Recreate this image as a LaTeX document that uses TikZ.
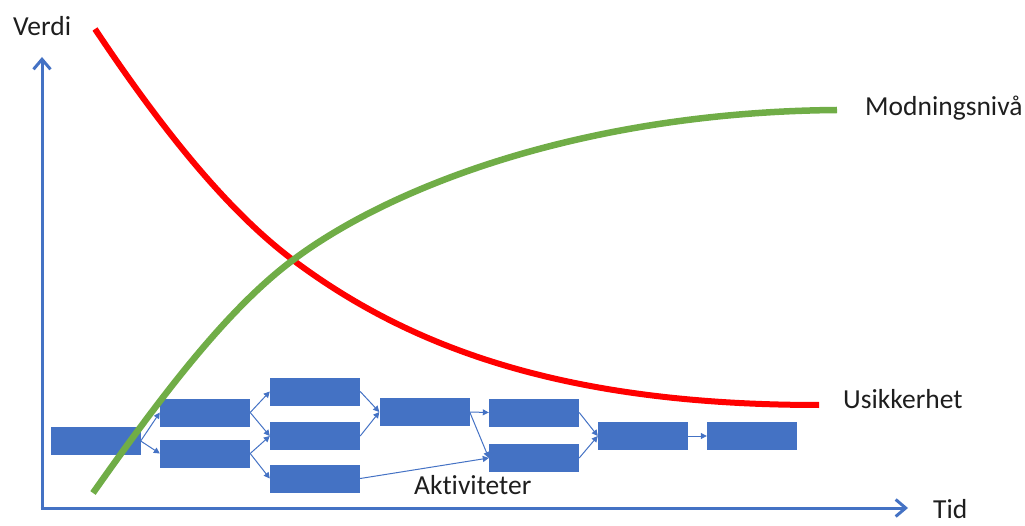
\documentclass[tikz,border=0pt]{standalone}
\usepackage{fontspec}
\setmainfont{Carlito}[Ligatures=NoCommon]
\usetikzlibrary{arrows.meta}
\definecolor{boxblue}{HTML}{4472C4}
\definecolor{axisblue}{HTML}{4472C4}
\definecolor{curvegreen}{HTML}{70AD47}
\definecolor{curvered}{HTML}{FF0000}
\definecolor{txt}{HTML}{1E1E1E}
\tikzset{
  actbox/.style={fill=boxblue, draw=none, inner sep=0pt, minimum width=90pt, minimum height=28pt},
  link/.style={draw=boxblue, line width=1pt, -{Triangle[length=6pt,width=6pt]}},
  axisline/.style={draw=axisblue, line width=3pt, -{Straight Barb[length=10pt,width=17pt,line width=3pt]}},
  lbl/.style={font=\fontsize{27.5}{32}\selectfont, text=txt, inner sep=0pt, anchor=base west},
}
\begin{document}
\begin{tikzpicture}[x=1pt,y=-1pt]
\useasboundingbox (0,0) rectangle (1025,526);
% axes
\coordinate (Ystart) at (42,509.5);
\coordinate (Xstart) at (40.5,508);
\coordinate (Ytip) at (42,57);
\coordinate (Xtip) at (908,508);
\draw[axisline] (Ystart) -- (Ytip);
\draw[axisline] (Xstart) -- (Xtip);
% labels
\node[lbl] (verdi) at (13,36) {Verdi};
\node[lbl] (tid) at (933,518) {Tid};
\node[lbl] (modning) at (865,116) {Modningsnivå};
\node[lbl] (usikker) at (843,408) {Usikkerhet};
\node[lbl] (aktiv) at (414,494) {Aktiviteter};
% activity boxes
\node[actbox] (A)  at (95.5,441) {};
\node[actbox] (B1) at (205,412.5) {};
\node[actbox] (B2) at (205,453.5) {};
\node[actbox] (C1) at (315,391.5) {};
\node[actbox] (C2) at (315,436) {};
\node[actbox] (C3) at (315,478.5) {};
\node[actbox] (D)  at (424.5,412) {};
\node[actbox] (E1) at (534,412.5) {};
\node[actbox] (E2) at (534,458) {};
\node[actbox] (F)  at (643,436) {};
\node[actbox] (G)  at (752,436) {};
% connectors
\draw[link] (A.east) -- (B1.west);
\draw[link] (A.east) -- (B2.west);
\draw[link] (B1.east) -- (C1.west);
\draw[link] (B1.east) -- (C2.west);
\draw[link] (B2.east) -- (C2.west);
\draw[link] (B2.east) -- (C3.west);
\draw[link] (C1.east) -- (D.west);
\draw[link] (C2.east) -- (D.west);
\draw[link] (C3.east) -- (E2.west);
\draw[link] (D.east) -- (E1.west);
\draw[link] (D.east) -- (E2.west);
\draw[link] (E1.east) -- (F.west);
\draw[link] (E2.east) -- (F.west);
\draw[link] (F.east) -- (G.west);
% curves
\draw[curvered, line width=6pt] (95,29) .. controls (161,128) and (227,210.5) .. (293,260)
  .. controls (413,350) and (569,405) .. (819,405);
\draw[curvegreen, line width=6.5pt] (93,493) .. controls (160,398) and (226,310) .. (293,260)
  .. controls (393,185) and (587,112) .. (837,110);
\end{tikzpicture}
\end{document}
